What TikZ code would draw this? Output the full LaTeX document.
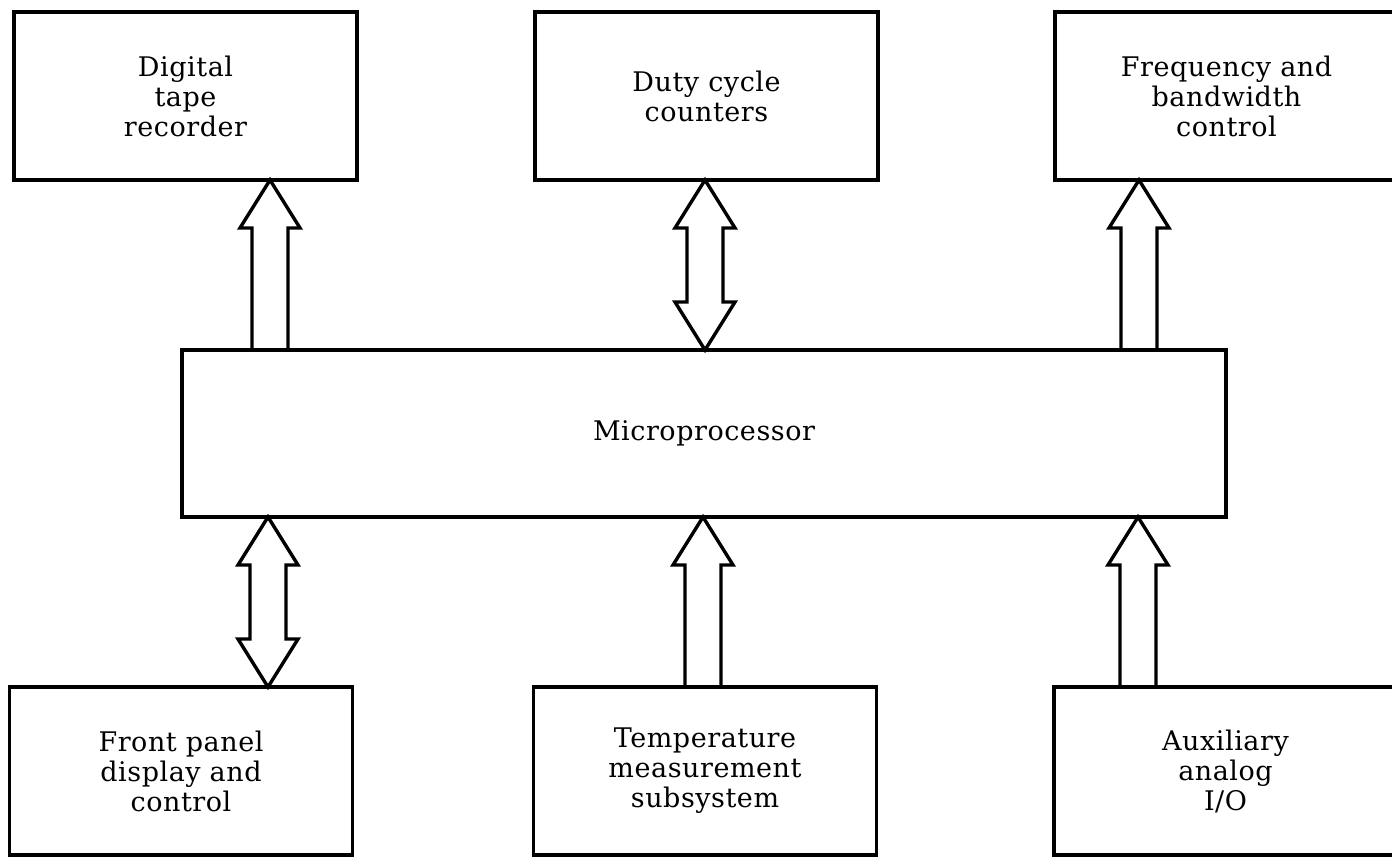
\documentclass[tikz,border=0pt]{standalone}
\usepackage{fontspec}
\setmainfont{DejaVu Serif}[LetterSpace=2]
\usetikzlibrary{calc}

% hollow bus arrow, #1 tail, #2 tip (pointing up)
\newcommand{\busup}[2]{%
  \draw[bus] ($(#1)+(-18,0)$) -- ($(#2)+(-18,-48)$) -- ($(#2)+(-30,-48)$) -- (#2)
    -- ($(#2)+(30,-48)$) -- ($(#2)+(18,-48)$) -- ($(#1)+(18,0)$);}
% hollow two-way bus arrow, #1 lower tip, #2 upper tip
\newcommand{\busboth}[2]{%
  \draw[bus] (#2) -- ($(#2)+(30,-48)$) -- ($(#2)+(18,-48)$) -- ($(#1)+(18,48)$)
    -- ($(#1)+(30,48)$) -- (#1) -- ($(#1)+(-30,48)$) -- ($(#1)+(-18,48)$)
    -- ($(#2)+(-18,-48)$) -- ($(#2)+(-30,-48)$) -- cycle;}

\begin{document}
\begin{tikzpicture}[
    x=1pt, y=1pt,
    block/.style={draw, line width=3.6pt, minimum width=343pt, minimum height=168pt,
                  align=center, inner sep=0pt, outer sep=0pt},
    bus/.style={line width=3.4pt, line join=miter},
    every node/.style={font=\fontsize{27}{30}\selectfont}
]
\useasboundingbox (0,0) rectangle (1392,-858);

% Top row
\node[block] (tape) at (185.5,-96) {Digital\\tape\\recorder};
\node[block] (duty) at (706.5,-96) {Duty cycle\\counters};
\node[block] (freq) at (1226.5,-96) {Frequency and\\bandwidth\\control};

% Microprocessor
\node[block, minimum width=1044pt, minimum height=167pt] (micro) at (704,-433.5) {Microprocessor};

% Bottom row
\node[block] (front) at (181,-771) {Front panel\\display and\\control};
\node[block] (temp) at (705,-771) {Temperature\\measurement\\subsystem};
\node[block] (aux) at (1225.5,-771) {Auxiliary\\analog\\I/O};

% Arrow end points
\coordinate (tapeTip) at (270,0 |- tape.south);
\coordinate (tapeTail) at (270,0 |- micro.north);
\coordinate (dutyTop) at (705,0 |- duty.south);
\coordinate (dutyBot) at (705,0 |- micro.north);
\coordinate (freqTip) at (1139,0 |- freq.south);
\coordinate (freqTail) at (1139,0 |- micro.north);
\coordinate (frontTop) at (268,0 |- micro.south);
\coordinate (frontBot) at (268,0 |- front.north);
\coordinate (tempTip) at (703,0 |- micro.south);
\coordinate (tempTail) at (703,0 |- temp.north);
\coordinate (auxTip) at (1138,0 |- micro.south);
\coordinate (auxTail) at (1138,0 |- aux.north);

% Bus arrows
\busup{tapeTail}{tapeTip}
\busboth{dutyBot}{dutyTop}
\busup{freqTail}{freqTip}
\busboth{frontBot}{frontTop}
\busup{tempTail}{tempTip}
\busup{auxTail}{auxTip}

\end{tikzpicture}
\end{document}
